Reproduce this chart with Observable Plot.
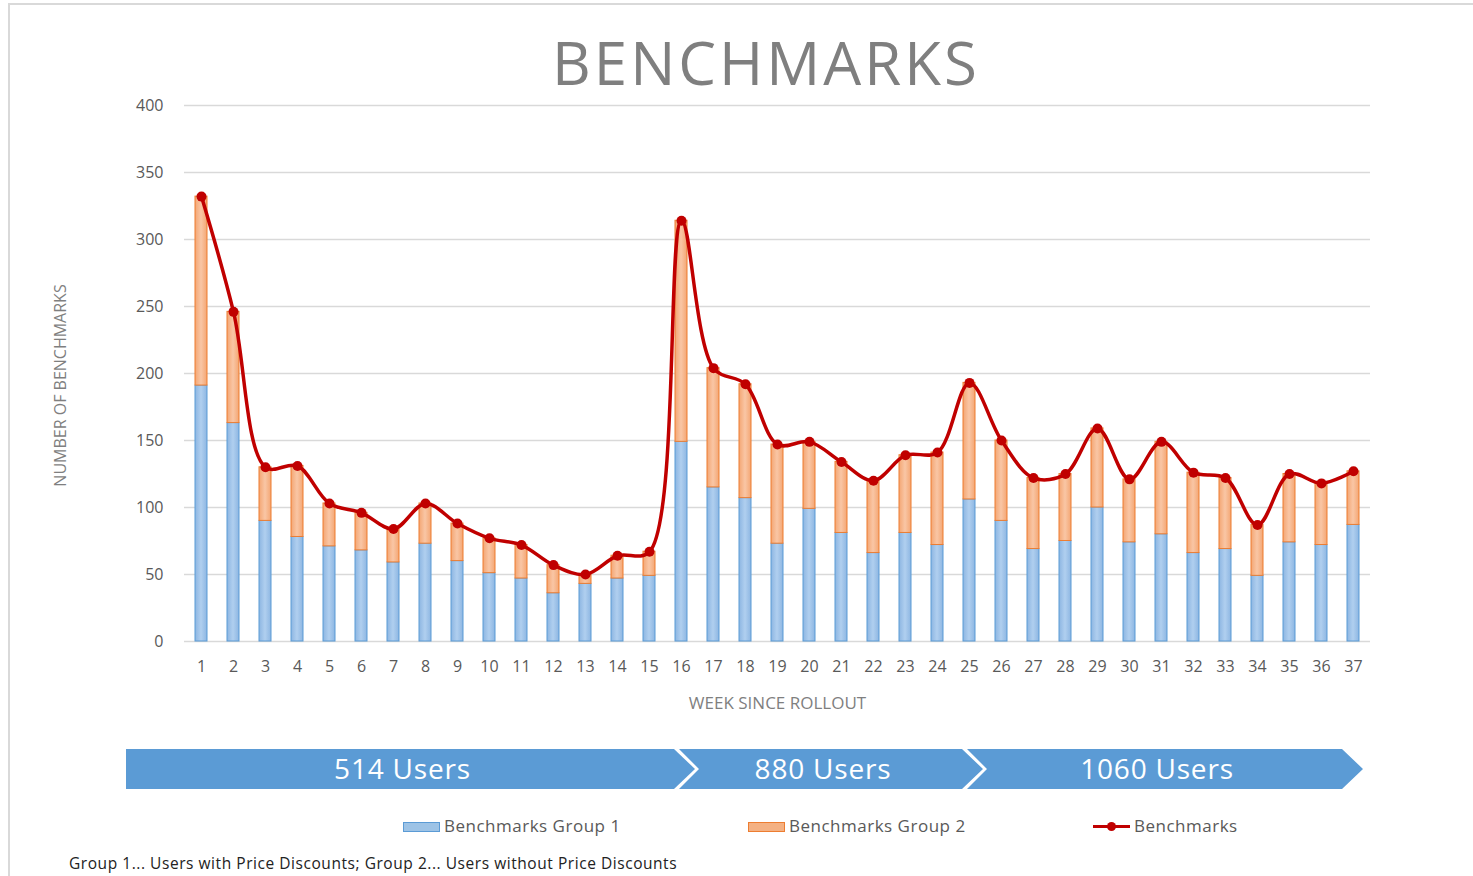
<!DOCTYPE html>
<html><head><meta charset="utf-8">
<script src="https://cdn.jsdelivr.net/npm/d3@7"></script>
<script src="https://cdn.jsdelivr.net/npm/@observablehq/plot@0.6"></script>
<style>
html,body{margin:0;padding:0;background:#fff;overflow:hidden;}
body{width:1473px;height:876px;position:relative;font-family:"Open Sans",sans-serif;}
#frame{position:absolute;left:8px;top:3px;width:1480px;height:900px;border-left:2px solid #d9d9d9;border-top:2px solid #d9d9d9;pointer-events:none;}
#title{height:47px;padding-top:33px;line-height:58px;font-size:60px;letter-spacing:3px;color:#7f7f7f;text-align:center;padding-left:59px;width:1414px;white-space:nowrap;overflow:visible;}
#chart{height:720px;}
#chart svg{display:block;}
#legend{position:relative;height:50px;}
#legend .t{position:absolute;top:16px;line-height:20px;font-size:17px;letter-spacing:0.5px;color:#595959;white-space:nowrap;}
#legend .sw{position:absolute;box-sizing:border-box;}
#foot{position:relative;height:26px;}
#foot span{position:absolute;left:69px;top:3px;line-height:20px;font-size:15.5px;letter-spacing:0.55px;color:#222;white-space:nowrap;}
</style>
</head><body>
<div id="frame"></div>
<div id="title">BENCHMARKS</div>
<div id="chart"></div>
<div id="legend">
  <div class="sw" style="left:403px;top:22px;width:37px;height:10px;background:#9dc3e6;border:1px solid #5b9bd5;"></div>
  <span class="t" style="left:444px;">Benchmarks Group 1</span>
  <div class="sw" style="left:748px;top:22px;width:37px;height:10px;background:#f4b183;border:1px solid #ed7d31;"></div>
  <span class="t" style="left:789px;">Benchmarks Group 2</span>
  <div class="sw" style="left:1093px;top:25px;width:37px;height:3px;background:#c00000;"></div>
  <div class="sw" style="left:1107px;top:22px;width:9px;height:9px;border-radius:50%;background:#c00000;"></div>
  <span class="t" style="left:1134px;">Benchmarks</span>
</div>
<div id="foot"><span>Group 1... Users with Price Discounts; Group 2... Users without Price Discounts</span></div>
<script>
const weeks = [1,2,3,4,5,6,7,8,9,10,11,12,13,14,15,16,17,18,19,20,21,22,23,24,25,26,27,28,29,30,31,32,33,34,35,36,37];
const group1 = [191,163,90,78,71,68,59,73,60,51,47,36,43,47,49,149,115,107,73,99,81,66,81,72,106,90,69,75,100,74,80,66,69,49,74,72,87];
const group2 = [141,83,40,53,32,28,25,30,28,26,25,21,7,17,18,165,89,85,74,50,53,54,58,69,87,60,53,50,59,47,69,60,53,38,51,46,40];
const benchmarks = [332,246,130,131,103,96,84,103,88,77,72,57,50,64,67,314,204,192,147,149,134,120,139,141,193,150,122,125,159,121,149,126,122,87,125,118,127];
const yTicks = [0,50,100,150,200,250,300,350,400];
const phaseLabels = ["514 Users","880 Users","1060 Users"];
const phaseStart = [1,16,25];
const phaseEnd = [15,24,37];

(function () {
const rows = weeks.map((w,i)=>({week:w, g1:group1[i], g2:group2[i], total:benchmarks[i]}));

const defs = () => {
  const d = d3.create("svg:defs");
  const mk = (id, edge, mid) => {
    const gr = d.append("linearGradient").attr("id", id).attr("x1","0").attr("x2","1").attr("y1","0").attr("y2","0");
    gr.append("stop").attr("offset","0%").attr("stop-color", edge);
    gr.append("stop").attr("offset","50%").attr("stop-color", mid);
    gr.append("stop").attr("offset","100%").attr("stop-color", edge);
  };
  mk("gBlue", "#8db6e2", "#b0cfef");
  mk("gOrange", "#f4a673", "#f9c6a5");
  return d.node();
};

const plot = Plot.plot({
  width: 1473,
  height: 720,
  marginTop: 25,
  marginBottom: 159,
  marginLeft: 184,
  marginRight: 103,
  style: {fontFamily: "'Open Sans', sans-serif", background: "transparent"},
  x: {type: "band", domain: weeks, paddingInner: 0.62, paddingOuter: 0.31, label: null},
  y: {domain: [0, 400], label: null},
  marks: [
    defs,
    Plot.gridY(yTicks, {stroke: "#d9d9d9", strokeOpacity: 1, strokeWidth: 1.5}),
    Plot.axisY(yTicks, {tickSize: 0, tickPadding: 21, fontSize: 16, color: "#595959", label: null}),
    Plot.axisX({tickSize: 0, tickPadding: 19, fontSize: 16, color: "#595959", label: null}),
    Plot.text(["NUMBER OF BENCHMARKS"], {text: d => d, frameAnchor: "left", textAnchor: "middle", rotate: -90, dx: -124, dy: 12, fontSize: 16, fill: "#7f7f7f"}),
    Plot.text(["WEEK SINCE ROLLOUT"], {text: d => d, frameAnchor: "bottom", dy: 67, fontSize: 17, fill: "#7f7f7f", style: "letter-spacing:0.5px"}),
    Plot.barY(rows, {x: "week", y1: 0, y2: "g1", fill: "url(#gBlue)", stroke: "#5b9bd5", strokeWidth: 1}),
    Plot.barY(rows, {x: "week", y1: "g1", y2: d => d.g1 + d.g2, fill: "url(#gOrange)", stroke: "#ed7d31", strokeWidth: 1}),
    Plot.line(rows, {x: "week", y: "total", stroke: "#c00000", strokeWidth: 3.5, curve: "catmull-rom"}),
    Plot.dot(rows, {x: "week", y: "total", r: 5, fill: "#c00000", stroke: "none"})
  ]
});
document.getElementById("chart").appendChild(plot);

// phase arrows under the axis, positioned from the plot's x and y scales
const xs = plot.scale("x"), ys = plot.scale("y");
const cx = w => xs.apply(w) + xs.bandwidth / 2;
const y0 = ys.apply(0);
const aTop = y0 + 108, aBot = y0 + 148, aMid = (aTop + aBot) / 2;
const g = d3.select(plot).append("g");
const n = phaseLabels.length;
for (let i = 0; i < n; i++) {
  const bPrev = i > 0 ? (cx(phaseEnd[i-1]) + cx(phaseStart[i])) / 2 : null;
  const bNext = i < n - 1 ? (cx(phaseEnd[i]) + cx(phaseStart[i+1])) / 2 : null;
  const left = i === 0 ? cx(phaseStart[0]) - 75 : bPrev + 14;
  const corner = i < n - 1 ? bNext + 9 : cx(phaseEnd[i]) - 11;
  const tip = corner + 21;
  const pts = [[left, aTop], [corner, aTop], [tip, aMid], [corner, aBot], [left, aBot]];
  if (i > 0) pts.push([left + 20, aMid]);
  g.append("polygon").attr("points", pts.map(p => p.join(",")).join(" ")).attr("fill", "#5b9bd5");
  g.append("text").attr("x", (left + tip) / 2 - 8).attr("y", aMid).attr("dy", "0.36em")
    .attr("text-anchor", "middle").attr("fill", "#fff").attr("font-size", 28)
    .attr("letter-spacing", "0.8px")
    .attr("font-family", "'Open Sans', sans-serif").text(phaseLabels[i]);
}
})();
</script>
</body></html>
